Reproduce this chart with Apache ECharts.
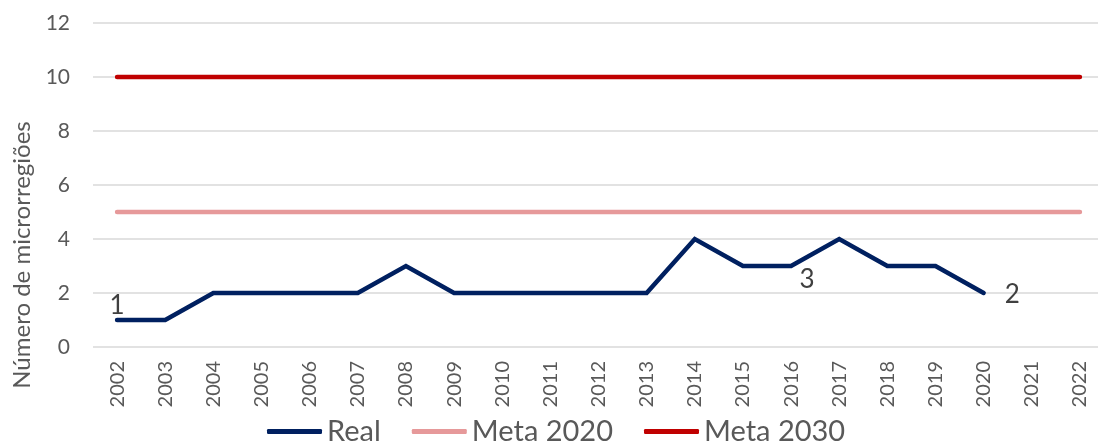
<!DOCTYPE html>
<html>
<head>
<meta charset="utf-8">
<script src="https://cdn.jsdelivr.net/npm/echarts@6/dist/echarts.min.js"></script>
<style>
  html, body { margin: 0; padding: 0; background: #ffffff; }
  #chart { width: 1098px; height: 446px; }
</style>
</head>
<body>
<div id="chart"></div>
<script>
// Years on the category axis
const years = ['2002','2003','2004','2005','2006','2007','2008','2009','2010','2011','2012',
               '2013','2014','2015','2016','2017','2018','2019','2020','2021','2022'];
// Observed number of micro-regions (no data after 2020)
const real = [1,1,2,2,2,2,3,2,2,2,2,2,4,3,3,4,3,3,2,null,null];
// Target levels
const meta2020 = [5,5,5,5,5,5,5,5,5,5,5,5,5,5,5,5,5,5,5,5,5];
const meta2030 = [10,10,10,10,10,10,10,10,10,10,10,10,10,10,10,10,10,10,10,10,10];
// Points that carry a value label, with their label placement
const labelled = { 0: 'top', 14: 'bottom', 18: 'right' };

const FONT = 'Lato, "Open Sans", sans-serif';
const TXT = '#595959';

const realData = real.map((v, i) => {
  if (labelled[i] === undefined) return v;
  const pos = labelled[i];
  const off = pos === 'top' ? [0, 4] : pos === 'bottom' ? [16, -4] : [16, 2];
  return {
    value: v,
    label: { show: true, position: pos, offset: off, formatter: '{c}',
             color: '#404040', fontSize: 26, fontFamily: FONT }
  };
});

const chart = echarts.init(document.getElementById('chart'));
chart.setOption({
  animation: false,
  textStyle: { fontFamily: FONT },
  grid: { left: 93, top: 23, width: 1011, height: 324,
          containLabel: false, outerBoundsMode: 'none' },
  graphic: [{
    type: 'text',
    x: 22, y: 255,
    rotation: Math.PI / 2,
    style: {
      text: 'Número de microrregiões',
      fontSize: 24, fontFamily: FONT, fill: TXT,
      align: 'center', verticalAlign: 'middle'
    }
  }],
  legend: {
    bottom: -5,
    left: 262,
    itemWidth: 55,
    itemHeight: 5,
    itemGap: 31,
    icon: 'roundRect',
    textStyle: { fontSize: 29, color: TXT, fontFamily: FONT },
    data: ['Real', 'Meta 2020', 'Meta 2030']
  },
  xAxis: {
    type: 'category',
    data: years,
    boundaryGap: true,
    axisLine: { show: false },
    axisTick: { show: false },
    axisLabel: { rotate: 90, fontSize: 20, color: TXT, margin: 14, fontFamily: FONT },
    splitLine: { show: false }
  },
  yAxis: {
    type: 'value',
    min: 0, max: 12, interval: 2,
    axisLine: { show: false },
    axisTick: { show: false },
    axisLabel: { fontSize: 21, color: TXT, margin: 23, fontFamily: FONT },
    splitLine: { lineStyle: { color: '#d9d9d9', width: 1.5 } }
  },
  series: [
    { name: 'Real', type: 'line', data: realData,
      symbol: 'circle', symbolSize: 0, showSymbol: true,
      itemStyle: { color: '#002060' },
      lineStyle: { color: '#002060', width: 4.5, cap: 'round', join: 'miter' }, z: 5 },
    { name: 'Meta 2020', type: 'line', data: meta2020, symbol: 'none',
      itemStyle: { color: '#E6999A' },
      lineStyle: { color: '#E6999A', width: 4.5, cap: 'round' }, z: 3 },
    { name: 'Meta 2030', type: 'line', data: meta2030, symbol: 'none',
      itemStyle: { color: '#C00000' },
      lineStyle: { color: '#C00000', width: 4.5, cap: 'round' }, z: 4 }
  ]
});
</script>
</body>
</html>
